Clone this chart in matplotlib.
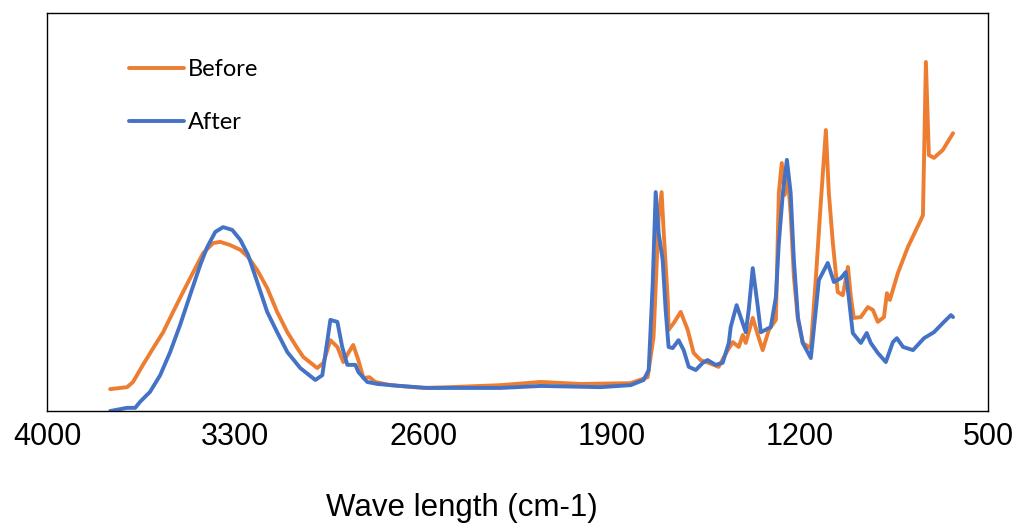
import matplotlib
matplotlib.use("Agg")
import matplotlib.pyplot as plt

# FTIR spectra, wavenumber (cm-1) vs absorbance (arbitrary units, 0-100)
before_wn = [3765, 3702, 3680, 3643, 3605, 3568, 3531, 3494, 3456, 3419, 3382,
             3356, 3319, 3281, 3252, 3218, 3181, 3144, 3106, 3069, 3047, 2995,
             2972, 2946, 2920, 2898, 2879, 2861, 2842, 2823, 2801, 2779, 2723,
             2600, 2500, 2313, 2164, 2015, 1829, 1766, 1744, 1725, 1714, 1706,
             1691, 1688, 1669, 1643, 1617, 1595, 1569, 1539, 1502, 1468, 1449,
             1427, 1412, 1401, 1375, 1356, 1338, 1315, 1289, 1278, 1267, 1256,
             1245, 1234, 1222, 1207, 1189, 1159, 1140, 1122, 1103, 1092, 1077,
             1059, 1040, 1021, 1010, 999, 973, 947, 928, 910, 887, 876, 865,
             835, 798, 750, 742, 731, 720, 701, 668, 630]
before_ab = [5.5, 6.0, 7.3, 11.6, 15.8, 19.8, 24.9, 29.9, 34.9, 39.7, 42.2,
             42.5, 41.7, 40.5, 38.7, 35.4, 30.9, 24.9, 19.8, 15.8, 13.6, 10.8,
             12.1, 17.8, 16.1, 12.3, 14.6, 16.6, 12.8, 8.3, 8.5, 7.3, 6.5,
             5.8, 6.0, 6.5, 7.3, 6.8, 7.0, 8.5, 18.6, 48.7, 55.0, 44.7,
             27.9, 20.4, 22.1, 24.9, 20.4, 14.6, 12.8, 12.1, 11.1, 15.3, 17.3,
             16.1, 19.1, 17.1, 23.4, 19.1, 15.3, 20.4, 22.9, 54.8, 62.3, 54.3,
             58.8, 49.7, 33.7, 22.9, 17.1, 15.8, 33.7, 52.3, 70.6, 54.8, 42.2,
             29.9, 29.1, 36.2, 28.6, 23.4, 23.6, 26.1, 25.4, 22.4, 23.6, 29.6, 27.9,
             34.7, 41.2, 48.0, 49.2, 87.7, 64.3, 63.6, 65.6, 69.8]

after_wn = [3765, 3702, 3672, 3654, 3617, 3579, 3542, 3505, 3468, 3430, 3404,
            3374, 3345, 3311, 3281, 3252, 3218, 3181, 3144, 3106, 3058, 3002,
            2976, 2957, 2946, 2920, 2902, 2883, 2853, 2842, 2809, 2771, 2686,
            2585, 2313, 2164, 1941, 1829, 1781, 1762, 1747, 1736, 1725, 1710,
            1699, 1688, 1673, 1651, 1632, 1613, 1587, 1561, 1543, 1513, 1487,
            1464, 1457, 1435, 1401, 1390, 1375, 1356, 1345, 1308, 1289, 1278,
            1263, 1248, 1234, 1222, 1207, 1189, 1159, 1148, 1129, 1096, 1073,
            1047, 1029, 1018, 1003, 973, 951, 936, 910, 880, 854, 839, 816,
            779, 738, 701, 668, 638, 630]
after_ab = [0.0, 0.8, 0.8, 2.3, 4.8, 9.0, 14.8, 21.6, 29.1, 36.7, 41.2,
            45.0, 46.2, 45.5, 43.0, 39.2, 32.4, 24.9, 19.8, 14.8, 10.8, 7.8,
            9.0, 17.8, 22.9, 22.4, 16.1, 11.6, 11.6, 9.8, 7.3, 6.8, 6.3,
            5.8, 5.8, 6.3, 6.0, 6.5, 7.8, 10.3, 32.2, 55.0, 44.7, 37.9,
            25.4, 16.1, 15.8, 17.8, 15.3, 11.1, 10.3, 12.1, 12.8, 11.6, 12.1,
            17.1, 21.1, 26.6, 19.8, 25.4, 35.9, 26.1, 19.8, 21.1, 28.6, 42.2,
            54.8, 63.1, 54.8, 37.9, 23.6, 17.1, 13.3, 20.4, 32.9, 37.2, 32.4,
            33.4, 34.9, 28.6, 19.6, 17.1, 19.6, 17.1, 14.6, 12.3, 17.3, 18.3, 16.1,
            15.3, 18.3, 19.8, 22.1, 24.1, 23.6]

x_ticks = [4000, 3300, 2600, 1900, 1200, 500]

fig = plt.figure(figsize=(10.15, 5.24), dpi=100)
ax = fig.add_axes([0.0463, 0.2156, 0.9271, 0.7596])

ax.plot(before_wn, before_ab, color="#ED7D31", lw=2.8, label="Before",
        solid_joinstyle="round", solid_capstyle="round")
ax.plot(after_wn, after_ab, color="#4472C4", lw=2.8, label="After",
        solid_joinstyle="round", solid_capstyle="round")

ax.set_xlim(4000, 500)
ax.set_ylim(0, 100)
ax.set_xticks(x_ticks)
ax.set_xticklabels([str(t) for t in x_ticks], fontsize=22, family="Liberation Sans")
ax.tick_params(axis="x", length=0, pad=8)
ax.set_yticks([])
for s in ax.spines.values():
    s.set_linewidth(1.0)
    s.set_color("black")

# axis title sits a little left of centre in the original
ax.set_xlabel("Wave length (cm-1)", fontsize=22.5, family="Liberation Sans")
ax.xaxis.set_label_coords(0.441, -0.206, transform=ax.transAxes)
ax.xaxis.label.set_verticalalignment("top")

ax.legend(loc="upper left", bbox_to_anchor=(0.0745, 0.913), frameon=False,
          handlelength=2.33, handletextpad=0.17, labelspacing=1.33, borderpad=0,
          prop={"family": "Lato", "size": 17})

fig.savefig("out.png", dpi=100)
